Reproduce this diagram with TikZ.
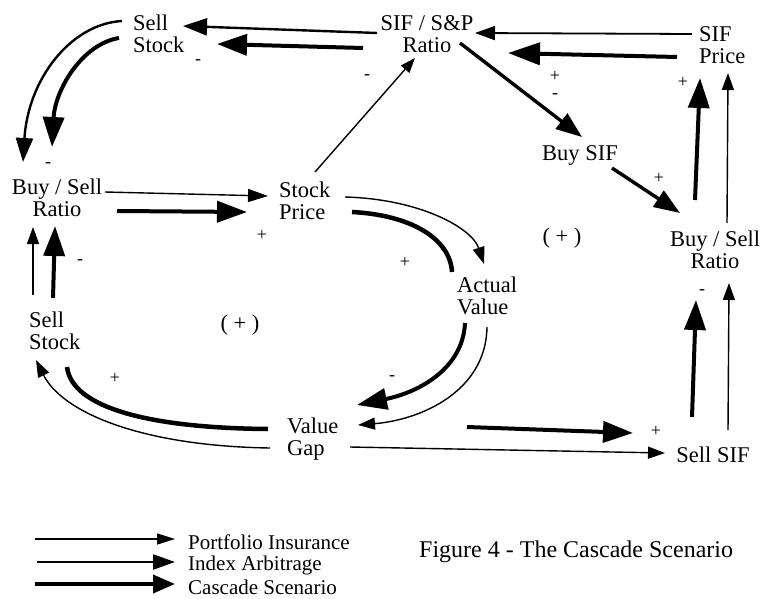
\documentclass[tikz,border=0pt]{standalone}
\usepackage{fontspec}
\setmainfont{Liberation Serif}
\usetikzlibrary{arrows.meta}
\begin{document}
\begin{tikzpicture}[x=1pt,y=-1pt,
  lab/.style={font=\fontsize{22.5}{22}\selectfont, inner sep=0pt, align=center},
  labl/.style={font=\fontsize{22.5}{22}\selectfont, inner sep=0pt, align=left},
  leg/.style={font=\fontsize{21}{22}\selectfont, inner sep=0pt, anchor=west},
  sgn/.style={font=\fontsize{18}{18}\selectfont, inner sep=0pt},
  thinA/.style={line width=1.4pt, -{Triangle[length=17pt,width=12pt]}},
  medA/.style={line width=2.4pt, -{Triangle[length=24pt,width=17pt]}},
  thickA/.style={line width=4pt, -{Triangle[length=30pt,width=21pt]}},
  thickL/.style={line width=4.5pt},
]
\useasboundingbox (0,0) rectangle (765,599);

% nodes
\node[labl, anchor=west] (sst) at (133,34) {Sell\\Stock};
\node[lab] (sif) at (427,34) {SIF / S\&P\\Ratio};
\node[labl, anchor=west] (sifp) at (699,45) {SIF\\Price};
\node[lab] (buysif) at (580,155) {Buy SIF};
\node[lab] (bsl) at (57,198) {Buy / Sell\\Ratio};
\node[labl, anchor=west] (sp) at (279,201) {Stock\\Price};
\node[lab] (bsr) at (715,250) {Buy / Sell\\Ratio};
\node[labl, anchor=west] (av) at (457,296) {Actual\\Value};
\node[labl, anchor=west] (ssl) at (29,331) {Sell\\Stock};
\node[labl, anchor=west] (vg) at (287,439) {Value\\Gap};
\node[lab] (ssif) at (713,455) {Sell SIF};

% endpoints
\coordinate (a1s) at (377,33);  \coordinate (a1e) at (183,26);
\coordinate (a2s) at (363,48);  \coordinate (a2e) at (217,44);
\coordinate (a3s) at (122,21);  \coordinate (a3e) at (23,162);
\coordinate (a4s) at (119,38);  \coordinate (a4e) at (52,147);
\coordinate (a5s) at (692,34);  \coordinate (a5e) at (475,33);
\coordinate (a6s) at (677,57);  \coordinate (a6e) at (508,53);
\coordinate (a7s) at (460,43);  \coordinate (a7e) at (582,137);
\coordinate (a8s) at (612,168); \coordinate (a8e) at (680,213);
\coordinate (a9s) at (695,200); \coordinate (a9e) at (700,78);
\coordinate (a10s) at (727,223); \coordinate (a10e) at (728,73);
\coordinate (a11s) at (315,172); \coordinate (a11e) at (415,58);
\coordinate (a12s) at (105,192); \coordinate (a12e) at (268,196);
\coordinate (a13s) at (117,211); \coordinate (a13e) at (247,212);
\coordinate (a14s) at (345,197); \coordinate (a14e) at (484,264);
\coordinate (a15s) at (352,212); \coordinate (a15e) at (452,272);
\coordinate (a16s) at (465,323); \coordinate (a16e) at (357,405);
\coordinate (a17s) at (487,327); \coordinate (a17e) at (358,425);
\coordinate (a18s) at (268,429); \coordinate (a18e) at (67,367);
\coordinate (a19s) at (270,448); \coordinate (a19e) at (36,360);
\coordinate (a20s) at (33,295); \coordinate (a20e) at (33,227);
\coordinate (a21s) at (53,298); \coordinate (a21e) at (55,226);
\coordinate (a22s) at (467,427); \coordinate (a22e) at (633,433);
\coordinate (a23s) at (350,447); \coordinate (a23e) at (665,453);
\coordinate (a24s) at (692,417); \coordinate (a24e) at (696,300);
\coordinate (a25s) at (728,430); \coordinate (a25e) at (729,283);

% connectors
\draw[medA] (a1s) -- (a1e);
\draw[thickA] (a2s) -- (a2e);
\draw[medA] (a3s) .. controls (70,24) and (28,80) .. (a3e);
\draw[thickA] (a4s) .. controls (82,44) and (55,90) .. (a4e);
\draw[thinA, line width=1.8pt, -{Triangle[length=20pt,width=14pt]}] (a5s) -- (a5e);
\draw[thickA, -{Triangle[length=32pt,width=22pt]}] (a6s) -- (a6e);
\draw[thickA, line width=3.4pt, -{Triangle[length=26pt,width=19pt]}] (a7s) -- (a7e);
\draw[thickA, line width=3.4pt, -{Triangle[length=26pt,width=19pt]}] (a8s) -- (a8e);
\draw[thickA] (a9s) -- (a9e);
\draw[thinA] (a10s) -- (a10e);
\draw[thinA, -{Triangle[length=15pt,width=11pt]}] (a11s) -- (a11e);
\draw[thinA, -{Triangle[length=20pt,width=13pt]}] (a12s) -- (a12e);
\draw[thickA] (a13s) -- (a13e);
\draw[thinA] (a14s) .. controls (420,199) and (472,228) .. (a14e);
\draw[thickL] (a15s) .. controls (410,215) and (450,238) .. (a15e);
\draw[thickA] (a16s) .. controls (463,368) and (420,392) .. (a16e);
\draw[thinA] (a17s) .. controls (486,392) and (420,420) .. (a17e);
\draw[thickL] (a18s) .. controls (150,428) and (72,408) .. (a18e);
\draw[thinA] (a19s) .. controls (140,446) and (62,412) .. (a19e);
\draw[thinA] (a20s) -- (a20e);
\draw[thickA] (a21s) -- (a21e);
\draw[thickA] (a22s) -- (a22e);
\draw[thinA] (a23s) -- (a23e);
\draw[thickA] (a24s) -- (a24e);
\draw[thinA] (a25s) -- (a25e);

% signs
\node[sgn] (s1) at (198,62) {-};
\node[sgn] (s2) at (367,77) {-};
\node[sgn] (s3) at (555,76) {+};
\node[sgn] (s4) at (555,96) {-};
\node[sgn] (s5) at (683,82) {+};
\node[sgn] (s6) at (48,165) {-};
\node[sgn] (s7) at (659,178) {+};
\node[sgn] (s8) at (262,235) {+};
\node[sgn] (s9) at (80,262) {-};
\node[sgn] (s10) at (405,262) {+};
\node[sgn] (s11) at (702,292) {-};
\node[sgn] (s12) at (115,378) {+};
\node[sgn] (s13) at (392,378) {-};
\node[sgn] (s14) at (656,431) {+};
\node[lab] (l1) at (562,238) {( + )};
\node[lab] (l2) at (240,325) {( + )};

% legend
\coordinate (g1s) at (35,539); \coordinate (g1e) at (175,539);
\coordinate (g2s) at (37,562); \coordinate (g2e) at (175,562);
\coordinate (g3s) at (35,584); \coordinate (g3e) at (175,584);
\draw[line width=1.4pt, -{Triangle[length=18pt,width=11pt]}] (g1s) -- (g1e);
\draw[line width=2.4pt, -{Triangle[length=22pt,width=15pt]}] (g2s) -- (g2e);
\draw[line width=3.6pt, -{Triangle[length=22pt,width=18pt]}] (g3s) -- (g3e);
\node[leg] (t1) at (188,542) {Portfolio Insurance};
\node[leg] (t2) at (188,565) {Index Arbitrage};
\node[leg] (t3) at (188,587) {Cascade Scenario};
\node[leg, font=\fontsize{24}{24}\selectfont] (cap) at (419,552) {Figure 4 - The Cascade Scenario};
\end{tikzpicture}
\end{document}
